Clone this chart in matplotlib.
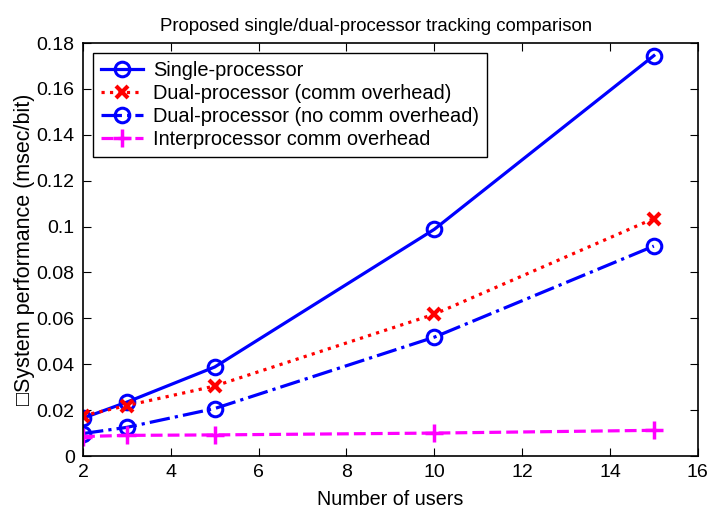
import matplotlib
matplotlib.use('Agg')
import matplotlib.pyplot as plt

plt.rcParams['font.family'] = ['Liberation Sans', 'DejaVu Sans']

# Numarul de utilizatori
users = [2, 3, 5, 10, 15]

# Performanta sistemului (msec/bit)
single_proc = [0.0165, 0.0235, 0.0388, 0.0988, 0.1745]
dual_comm = [0.0176, 0.0220, 0.0305, 0.0618, 0.1035]
dual_nocomm = [0.0098, 0.0125, 0.0207, 0.0518, 0.0915]
comm_overhead = [0.0085, 0.0090, 0.0092, 0.0100, 0.0112]

labels = ['Single-processor', 'Dual-processor (comm overhead)',
          'Dual-processor (no comm overhead)', 'Interprocessor comm overhead']

xticks = [2, 4, 6, 8, 10, 12, 14, 16]
yticks = [0, 0.02, 0.04, 0.06, 0.08, 0.1, 0.12, 0.14, 0.16, 0.18]
yticklabels = ['0', '0.02', '0.04', '0.06', '0.08', '0.1', '0.12', '0.14', '0.16', '0.18']

fig = plt.figure(figsize=(7.12, 5.14), dpi=100)
ax = fig.add_axes([0.1166, 0.1128, 0.8634, 0.8035])

ax.plot(users, single_proc, '-o', color='#0000ff', lw=2.3, ms=10.5, mew=2.2,
        mfc='none', label=labels[0])
ax.plot(users, dual_comm, ':x', color='#ff0000', lw=2.3, ms=8.5, mew=3,
        label=labels[1])
ax.plot(users, dual_nocomm, '-.o', color='#0000ff', lw=2.3, ms=10.5, mew=2.2,
        mfc='none', label=labels[2])
ax.plot(users, comm_overhead, '--+', color='#ff00ff', lw=2.3, ms=13, mew=2.5,
        label=labels[3])

ax.set_xlim(2, 16)
ax.set_ylim(0, 0.18)
ax.set_xticks(xticks)
ax.set_yticks(yticks)
ax.set_yticklabels(yticklabels)
ax.tick_params(direction='in', top=True, right=True, labelsize=14, length=6, pad=6)
for s in ax.spines.values():
    s.set_linewidth(1.2)

ax.set_title('Proposed single/dual-processor tracking comparison', fontsize=13.4,
             pad=9, x=0.476)
ax.set_xlabel('Number of users', fontsize=14.2, labelpad=6)
ax.set_ylabel('\u25a1System performance (msec/bit)', fontsize=15.5, labelpad=1)

leg = ax.legend(loc='upper left', fontsize=14.4, fancybox=False, edgecolor='black',
                framealpha=1, borderaxespad=0.5, handlelength=2.1, handletextpad=0.5,
                labelspacing=0.2, borderpad=0.4)
leg.get_frame().set_linewidth(1.0)

fig.savefig('out.png', dpi=100)
